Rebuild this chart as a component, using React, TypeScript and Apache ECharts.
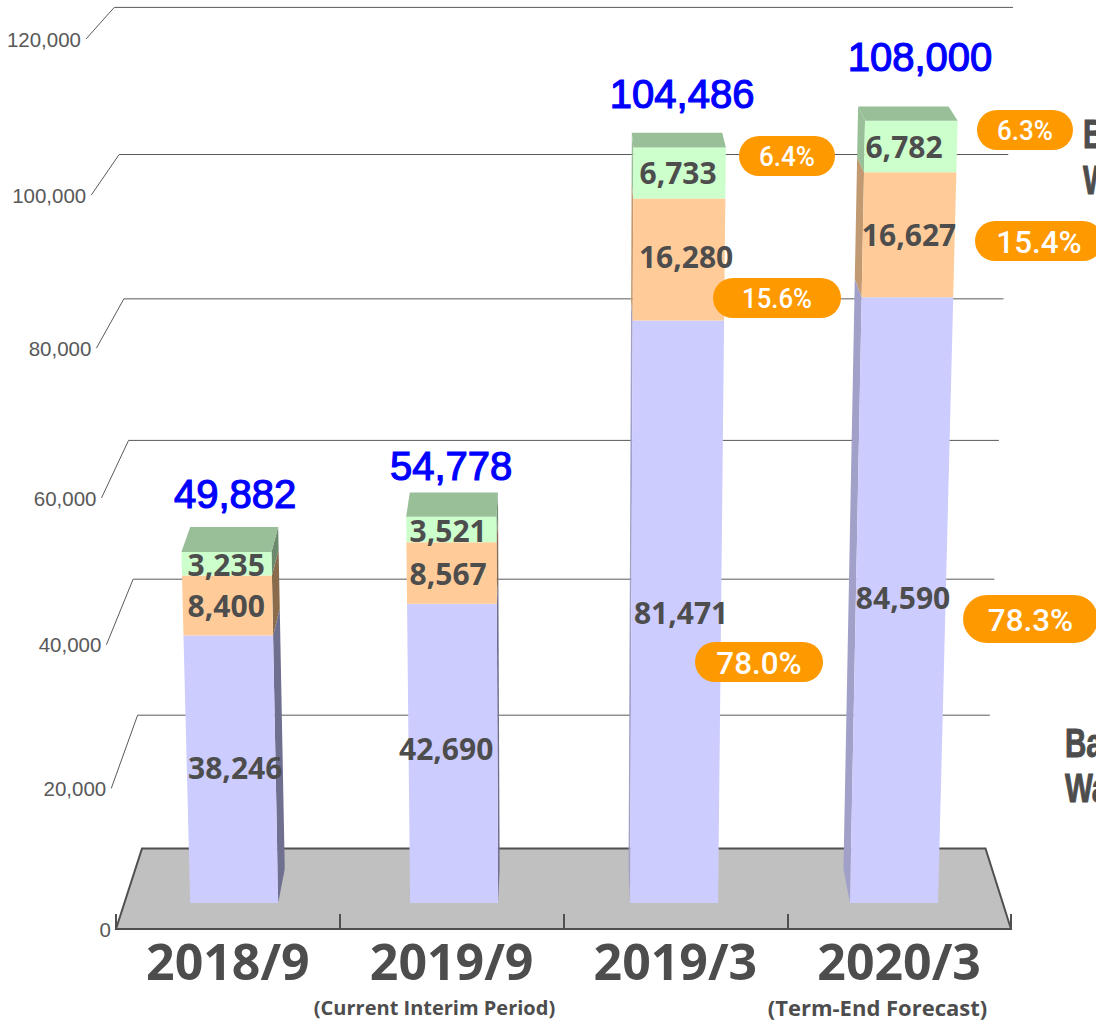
import React, { useEffect, useRef } from "react";
import * as echarts from "echarts";

// ---- data -------------------------------------------------------------
const categories = ["2018/9", "2019/9", "2019/3", "2020/3"];
const blueValues = [38246, 42690, 81471, 84590];
const orangeValues = [8400, 8567, 16280, 16627];
const greenValues = [3235, 3521, 6733, 6782];
const totals = [49882, 54778, 104486, 108000];
const yTicks = [0, 20000, 40000, 60000, 80000, 100000, 120000];
const pillTexts = ["6.4%", "15.6%", "78.0%", "6.3%", "15.4%", "78.3%"];
const subCaptions = ["(Current Interim Period)", "(Term-End Forecast)"];

// ---- layout -----------------------------------------------------------
const W = 1096, H = 1024;
const GRID = { left: 116, right: 85, top: 39, bottom: 95 };
const AXIS_Y = H - GRID.bottom;
const AXIS_H = AXIS_Y - GRID.top;
const PIVOT = 564;
const TEXT = "#4d4d4d";
const fmt = (v: number) => v.toLocaleString("en-US");

// non-linear perspective applied to the axis' linear pixel position
const t = (api: any, v: number) => (AXIS_Y - api.coord([0, v])[1]) / AXIS_H;
const frontAxisY = (tv: number) => AXIS_Y - (834 * tv + 56 * tv * tv);
const backWallY = (tv: number) => 848.4 - (791 * tv + 50 * tv * tv);
const BAR_BASE = 903;
const barH = (tv: number) => 822.5 * tv + 52 * tv * tv;
const barSkew = (x0: number, h: number) => PIVOT + (x0 - PIVOT) * (1 + 6.7e-5 * h);
const depth = (h: number) => 34 - 0.0255 * h;
const backX = (x: number) => x + (PIVOT - x) * 0.023;
const BAR_HALF = 44;

// face colours per segment
const faces = [
  { front: "#ccccff", dark: "#6f6f90", mid: "#a0a0c8" },
  { front: "#ffcc99", dark: "#8a6c4c", mid: "#c29a72" },
  { front: "#ccffcc", dark: "#6b8a6b", mid: "#99bf99" },
];
const TOP_FACE = "#99bf99";

// nudges for labels (px from the centre of their bar / segment)
const labelDx = [
  [1, -8, -8],
  [-8, -6, -6],
  [7, 12, 4],
  [9, 15, 10],
];
const labelDy = [
  [-2, 0, 1],
  [-5, 0, 1],
  [1, -3, 0],
  [-3, 0, 0],
];
const totalDx = [1, -3, 8, 26];
const totalDy = [-33.5, -27, -39, -50];

const pills = [
  { x: 739, y: 136, w: 96, h: 40, fs: 28, sx: 0.93 },
  { x: 713, y: 278, w: 128, h: 40, fs: 28, sx: 0.92 },
  { x: 695, y: 642, w: 128, h: 40, fs: 32, sx: 0.98 },
  { x: 977, y: 110, w: 96, h: 40, fs: 28, sx: 0.93 },
  { x: 975, y: 221, w: 128, h: 40, fs: 32, sx: 0.98 },
  { x: 963, y: 595, w: 135, h: 48, fs: 32, sx: 0.98 },
];

function makeBarSeries(segment: number, values: number[], bases: number[], isTop: boolean) {
  return {
    type: "custom",
    name: ["Lower", "Middle", "Upper"][segment],
    z: 3 + segment * 0.01,
    clip: false,
    data: values.map((v, i) => [i, bases[i], bases[i] + v, v]),
    encode: { x: 0, y: 2 },
    renderItem: (_p: any, api: any) => {
      const i = api.value(0);
      const bandX = api.coord([i, 0])[0];
      const cx0 = PIVOT + (bandX - PIVOT) * 0.983 + 0.6;
      const h1 = barH(t(api, api.value(1)));
      const h2 = barH(t(api, api.value(2)));
      const y1 = BAR_BASE - h1;
      const y2 = BAR_BASE - h2;
      const L = cx0 - BAR_HALF, R = cx0 + BAR_HALF;
      const left = cx0 < PIVOT;
      const col = faces[segment];
      const sideX0 = left ? R : L;
      const fp = (x: number, h: number) => [barSkew(x, h), BAR_BASE - h];
      const bp = (x: number, h: number) => {
        const f = barSkew(x, h);
        return [backX(f), BAR_BASE - h - depth(h)];
      };
      const children: any[] = [];
      children.push({
        type: "polygon",
        shape: { points: [fp(sideX0, h1), fp(sideX0, h2), bp(sideX0, h2), bp(sideX0, h1)] },
        style: { fill: left ? col.dark : col.mid },
      });
      children.push({
        type: "polygon",
        shape: { points: [fp(L, h1), fp(R, h1), fp(R, h2), fp(L, h2)] },
        style: { fill: col.front },
      });
      if (isTop) {
        children.push({
          type: "polygon",
          shape: { points: [fp(L, h2), fp(R, h2), bp(R, h2), bp(L, h2)] },
          style: { fill: TOP_FACE },
        });
      }
      children.push({
        type: "text",
        z2: 50,
        x: cx0 + labelDx[i][segment],
        y: (y1 + y2) / 2 + labelDy[i][segment],
        style: {
          text: fmt(api.value(3)),
          fill: TEXT,
          font: 'bold 30px "Open Sans"',
          align: "center",
          textAlign: "center",
          verticalAlign: "middle",
          textVerticalAlign: "middle",
        },
      });
      if (isTop) {
        children.push({
          type: "text",
          z2: 50,
          x: cx0 + totalDx[i],
          y: BAR_BASE - h2 - depth(h2) + totalDy[i],
          style: {
            text: fmt(totals[i]),
            fill: "#0000ff",
            stroke: "#0000ff",
            lineWidth: 1.2,
            font: '40px "Liberation Sans"',
            align: "center",
            textAlign: "center",
            verticalAlign: "middle",
            textVerticalAlign: "middle",
          },
        });
      }
      return { type: "group", children };
    },
  };
}

function buildOption() {
  const upperBase = blueValues.map((v, i) => v + orangeValues[i]);
  const pillGraphics: any[] = [];
  pills.forEach((p, i) => {
    pillGraphics.push({
      type: "rect",
      z: 20,
      shape: { x: p.x, y: p.y, width: p.w, height: p.h, r: p.h / 2 },
      style: { fill: "#ff9900" },
    });
    pillGraphics.push({
      type: "text",
      z: 21,
      x: p.x + p.w / 2,
      y: p.y + p.h / 2 + 1,
      scaleX: p.sx,
      style: {
        text: pillTexts[i],
        fill: "#ffffff",
        font: `500 ${p.fs}px Roboto`,
        align: "center",
        textAlign: "center",
        verticalAlign: "middle",
        textVerticalAlign: "middle",
      },
    });
  });
  const sideCaption = (text: string, x: number, y: number) => ({
    type: "text",
    z: 21,
    x,
    y,
    scaleX: 0.72,
    style: {
      text,
      fill: TEXT,
      stroke: TEXT,
      lineWidth: 1,
      font: 'bold 41px "Liberation Sans"',
      align: "left",
      textAlign: "left",
      verticalAlign: "middle",
      textVerticalAlign: "middle",
    },
  });
  const subCaption = (text: string, x: number, fs: number) => ({
    type: "text",
    z: 21,
    x,
    y: 1007,
    style: {
      text,
      fill: TEXT,
      font: `bold ${fs}px "Open Sans"`,
      align: "center",
      textAlign: "center",
      verticalAlign: "middle",
      textVerticalAlign: "middle",
    },
  });

  return {
    animation: false,
    backgroundColor: "#ffffff",
    tooltip: { show: false },
    legend: { show: false },
    grid: { ...GRID, containLabel: false },
    xAxis: {
      type: "category",
      data: categories,
      z: 10,
      boundaryGap: true,
      axisLine: { show: true, onZero: false, lineStyle: { color: "#505050", width: 2 } },
      axisTick: { show: true, inside: true, length: 15, lineStyle: { color: "#505050", width: 2 }, alignWithLabel: false },
      axisLabel: {
        interval: 0,
        margin: 7,
        color: TEXT,
        fontFamily: "Open Sans",
        fontWeight: "bold",
        fontSize: 50,
      },
    },
    yAxis: {
      type: "value",
      min: 0,
      max: 120000,
      interval: 20000,
      axisLine: { show: false },
      axisTick: { show: false },
      axisLabel: { show: false },
      splitLine: { show: false },
    },
    graphic: [
      ...pillGraphics,
      sideCaption("Ba", 1083, 134),
      sideCaption("Wa", 1083, 180),
      sideCaption("Ba", 1065, 743),
      sideCaption("Wa", 1065, 788),
      subCaption(subCaptions[0], 434.5, 20),
      subCaption(subCaptions[1], 877.5, 22),
    ],
    series: [
      {
        type: "custom",
        name: "Scale",
        z: 1,
        clip: false,
        data: yTicks.map((v) => [0, v]),
        encode: { x: 0, y: 1 },
        renderItem: (params: any, api: any) => {
          const v = api.value(1);
          const tv = t(api, v);
          const cs = params.coordSys;
          const fy = frontAxisY(tv);
          const by = backWallY(tv);
          const fh = AXIS_Y - fy;
          const fx = cs.x - 0.0337 * fh;
          const bx = cs.x + 26 - 0.033 * (848 - by);
          const rx = cs.x + cs.width - 25.5 + 0.031 * fh;
          const children: any[] = [
            {
              type: "text",
              x: fx - 5,
              y: fy,
              style: {
                text: fmt(v),
                fill: "#595959",
                font: '20.5px "Liberation Sans"',
                align: "right",
                textAlign: "right",
                verticalAlign: "middle",
                textVerticalAlign: "middle",
              },
            },
          ];
          if (v === 0) {
            children.unshift({
              type: "polygon",
              shape: { points: [[cs.x, AXIS_Y], [cs.x + 26, by], [rx, by], [cs.x + cs.width, AXIS_Y]] },
              style: { fill: "#c0c0c0", stroke: "#505050", lineWidth: 2 },
            });
          } else {
            children.unshift({
              type: "polyline",
              shape: { points: [[fx, fy], [bx, by], [rx, by]] },
              style: { fill: "none", stroke: "#5a5a5a", lineWidth: 1 },
            });
          }
          return { type: "group", children };
        },
      },
      makeBarSeries(0, blueValues, blueValues.map(() => 0), false),
      makeBarSeries(1, orangeValues, blueValues, false),
      makeBarSeries(2, greenValues, upperBase, true),
    ],
  };
}

export default function App() {
  const ref = useRef<HTMLDivElement>(null);
  useEffect(() => {
    document.body.style.margin = "0";
    const chart = echarts.init(ref.current!, undefined, { renderer: "svg", width: W, height: H });
    chart.setOption(buildOption() as any);
    return () => chart.dispose();
  }, []);
  return <div ref={ref} style={{ width: W, height: H, overflow: "hidden" }} />;
}
